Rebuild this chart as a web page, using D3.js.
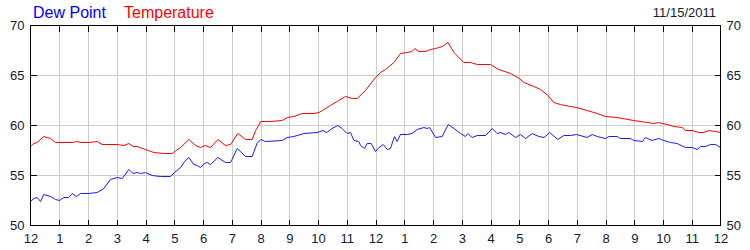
<!DOCTYPE html>
<html>
<head>
<meta charset="utf-8">
<script src="https://cdn.jsdelivr.net/npm/d3@7"></script>
<style>
  body { margin: 0; background: #fff; }
  svg { display: block; font-family: "Liberation Sans", Arial, sans-serif; }
</style>
</head>
<body>
<svg id="chart"></svg>
<script>
const width = 750;
const height = 250;

// hours after midnight (0..24) and readings in degrees F
const tempHours = [0, 0.12, 0.23, 0.46, 0.70, 0.87, 1.01, 1.45, 1.62, 1.74, 2.03, 2.32, 2.49, 3.01, 3.25, 3.42, 3.57, 3.71,
  4.0, 4.29, 4.64, 4.93, 5.01, 5.22, 5.51, 5.74, 5.91, 6.08, 6.26, 6.52, 6.78, 6.96, 7.21, 7.48, 7.71, 7.83,
  8.01, 8.35, 8.75, 8.93, 9.16, 9.45, 9.86, 10.03, 10.15, 10.43, 10.72, 10.96, 11.07, 11.19, 11.36, 11.65,
  12.0, 12.17, 12.35, 12.64, 12.87, 13.1, 13.27, 13.37, 13.51, 13.74, 13.91, 14.09, 14.2, 14.32, 14.52, 14.73,
  15.07, 15.3, 15.54, 16.0, 16.29, 16.7, 17.0, 17.16, 17.51, 17.74, 18.0, 18.2, 18.43, 18.78, 19.0, 19.36,
  19.71, 20.0, 20.41, 20.58, 20.98, 21.45, 21.68, 21.85, 22.14, 22.38, 22.67, 22.78, 23.02, 23.25, 23.42,
  23.59, 23.83, 24.0];
const tempValues = [57.9, 58.2, 58.3, 58.9, 58.7, 58.3, 58.3, 58.3, 58.4, 58.3, 58.3, 58.4, 58.1, 58.1, 58.0, 58.2, 57.9, 57.9,
  57.6, 57.3, 57.2, 57.2, 57.4, 57.8, 58.6, 58.0, 57.8, 58.0, 57.8, 58.6, 58.0, 58.1, 59.2, 58.6, 58.6, 59.5,
  60.4, 60.4, 60.5, 60.8, 60.9, 61.2, 61.2, 61.3, 61.5, 62.0, 62.5, 62.9, 62.8, 62.7, 62.7, 63.5,
  64.8, 65.3, 65.6, 66.3, 67.2, 67.3, 67.4, 67.7, 67.4, 67.4, 67.6, 67.7, 67.8, 67.9, 68.3, 67.3,
  66.3, 66.3, 66.1, 66.1, 65.6, 65.2, 64.7, 64.3, 63.9, 63.6, 63.0, 62.3, 62.1, 61.9, 61.8, 61.5,
  61.2, 60.9, 60.8, 60.7, 60.5, 60.3, 60.2, 60.3, 60.1, 59.9, 59.8, 59.5, 59.5, 59.3, 59.3,
  59.5, 59.4, 59.3];

const dewHours = [0, 0.12, 0.23, 0.35, 0.46, 0.70, 0.87, 1.01, 1.16, 1.33, 1.45, 1.60, 1.74, 2.03, 2.32, 2.55, 2.78, 3.01,
  3.19, 3.42, 3.57, 3.71, 3.83, 4.0, 4.23, 4.52, 4.87, 5.01, 5.22, 5.36, 5.51, 5.68, 5.80, 5.91, 6.05, 6.14,
  6.26, 6.52, 6.78, 6.96, 7.19, 7.48, 7.71, 7.88, 8.01, 8.17, 8.75, 8.93, 9.16, 9.51, 9.97, 10.18, 10.3,
  10.49, 10.69, 10.84, 11.01, 11.13, 11.25, 11.42, 11.48, 11.62, 11.71, 11.85, 12.0, 12.12, 12.27, 12.41,
  12.52, 12.66, 12.75, 12.87, 13.1, 13.27, 13.45, 13.68, 13.8, 13.88, 14.09, 14.32, 14.53, 14.73, 14.96,
  15.13, 15.21, 15.36, 15.54, 15.83, 16.06, 16.23, 16.35, 16.52, 16.64, 16.87, 17.04, 17.22, 17.45, 17.68,
  17.86, 18.06, 18.34, 18.55, 18.78, 19.0, 19.36, 19.54, 19.71, 20.0, 20.12, 20.41, 20.52, 20.87, 20.98,
  21.28, 21.39, 21.62, 21.85, 22.03, 22.26, 22.49, 22.78, 23.02, 23.19, 23.3, 23.48, 23.65, 23.83, 24.0];
const dewValues = [52.4, 52.7, 52.8, 52.4, 53.1, 52.9, 52.6, 52.5, 52.8, 52.8, 53.2, 52.9, 53.2, 53.2, 53.3, 53.7, 54.6, 54.8,
  54.7, 55.6, 55.2, 55.3, 55.2, 55.3, 55.0, 54.9, 54.9, 55.3, 55.8, 56.4, 56.8, 56.1, 56.0, 55.8, 56.2, 56.3,
  56.1, 56.8, 56.3, 56.3, 57.7, 56.9, 56.9, 58.2, 58.6, 58.4, 58.5, 58.8, 58.9, 59.2, 59.3, 59.5, 59.3,
  59.7, 60.0, 59.7, 59.2, 59.3, 58.5, 58.4, 58.0, 57.7, 58.2, 58.2, 57.4, 57.8, 58.1, 57.6,
  57.7, 58.9, 58.4, 59.1, 59.1, 59.2, 59.6, 59.8, 59.7, 59.8, 58.8, 58.9, 60.1, 59.7, 59.2,
  58.9, 59.2, 58.8, 59.0, 59.0, 59.7, 59.2, 59.3, 59.1, 59.3, 58.8, 59.1, 58.7, 59.2, 58.9,
  58.8, 59.3, 58.6, 59.0, 59.0, 59.1, 58.8, 59.1, 58.9, 58.7, 58.9, 58.9, 58.7, 58.7, 58.5,
  58.4, 58.8, 58.5, 58.7, 58.5, 58.3, 58.2, 57.8, 57.8, 57.6, 57.9, 57.9, 58.1, 58.1, 57.8];

const hourLabels = ["12", "1", "2", "3", "4", "5", "6", "7", "8", "9", "10", "11",
  "12", "1", "2", "3", "4", "5", "6", "7", "8", "9", "10", "11", "12"];
const yTicks = [50, 55, 60, 65, 70];
const dateLabel = "11/15/2011";

const margin = {left: 30, right: 30, top: 25, bottom: 25};
const textColor = "#111a33";

const svg = d3.select("#chart")
  .attr("width", width)
  .attr("height", height);

const x = d3.scaleLinear().domain([0, 24]).range([margin.left + 0.5, width - margin.right + 0.5]);
const y = d3.scaleLinear().domain([50, 70]).range([height - margin.bottom + 0.5, margin.top + 0.5]);

const hours = d3.range(0, 25);

// light grid
const grid = svg.append("g").attr("shape-rendering", "crispEdges");
grid.selectAll("line.vg")
  .data(hours.slice(1, -1))
  .enter().append("line")
  .attr("class", "vg")
  .attr("x1", d => Math.round(x(d)) + 0.5).attr("x2", d => Math.round(x(d)) + 0.5)
  .attr("y1", y(70)).attr("y2", y(50))
  .attr("stroke", "#cccccc");
grid.selectAll("line.hg")
  .data(yTicks.slice(1, -1))
  .enter().append("line")
  .attr("class", "hg")
  .attr("x1", x(0)).attr("x2", x(24))
  .attr("y1", d => y(d)).attr("y2", d => y(d))
  .attr("stroke", "#cccccc");

// inner black tick marks on all four sides
const ticks = svg.append("g").attr("shape-rendering", "crispEdges").attr("stroke", "#000");
hours.slice(1, -1).forEach(h => {
  const px = Math.round(x(h)) + 0.5;
  ticks.append("line").attr("x1", px).attr("x2", px).attr("y1", y(70)).attr("y2", y(70) + 6);
  ticks.append("line").attr("x1", px).attr("x2", px).attr("y1", y(50)).attr("y2", y(50) - 6);
});
yTicks.slice(1, -1).forEach(v => {
  ticks.append("line").attr("x1", x(0)).attr("x2", x(0) + 6).attr("y1", y(v)).attr("y2", y(v));
  ticks.append("line").attr("x1", x(24)).attr("x2", x(24) - 6).attr("y1", y(v)).attr("y2", y(v));
});

// series
const line = d3.line()
  .x(d => x(d[0]))
  .y(d => y(d[1]));

svg.append("path")
  .datum(d3.zip(tempHours, tempValues))
  .attr("fill", "none")
  .attr("stroke", "#ff0000")
  .attr("stroke-width", 1)
  .attr("d", line);

svg.append("path")
  .datum(d3.zip(dewHours, dewValues))
  .attr("fill", "none")
  .attr("stroke", "#1a1aff")
  .attr("stroke-width", 1)
  .attr("d", line);

// frame
svg.append("rect")
  .attr("x", x(0)).attr("y", y(70))
  .attr("width", x(24) - x(0)).attr("height", y(50) - y(70))
  .attr("fill", "none")
  .attr("stroke", "#000")
  .attr("shape-rendering", "crispEdges");

// axes (labels only)
const xAxis = d3.axisBottom(x)
  .tickValues(hours)
  .tickSize(0)
  .tickPadding(8)
  .tickFormat((d, i) => hourLabels[i]);
const gx = svg.append("g")
  .attr("transform", `translate(0,${y(50)})`)
  .call(xAxis);

const gl = svg.append("g")
  .attr("transform", `translate(${x(0)},0)`)
  .call(d3.axisLeft(y).tickValues(yTicks).tickSize(0).tickPadding(6));

const gr = svg.append("g")
  .attr("transform", `translate(${x(24)},0)`)
  .call(d3.axisRight(y).tickValues(yTicks).tickSize(0).tickPadding(6));

[gx, gl, gr].forEach(g => {
  g.select(".domain").remove();
  g.selectAll("text")
    .attr("font-size", 13)
    .attr("font-family", "'Liberation Sans', Arial, sans-serif")
    .attr("fill", textColor);
});

// legend + date
svg.append("text")
  .attr("x", 33).attr("y", 18)
  .attr("font-size", 16)
  .attr("fill", "#0000ff")
  .text("Dew Point");
svg.append("text")
  .attr("x", 124).attr("y", 18)
  .attr("font-size", 16)
  .attr("fill", "#ff0000")
  .text("Temperature");
svg.append("text")
  .attr("x", 716).attr("y", 17)
  .attr("text-anchor", "end")
  .attr("font-size", 13)
  .attr("fill", textColor)
  .text(dateLabel);
</script>
</body>
</html>
